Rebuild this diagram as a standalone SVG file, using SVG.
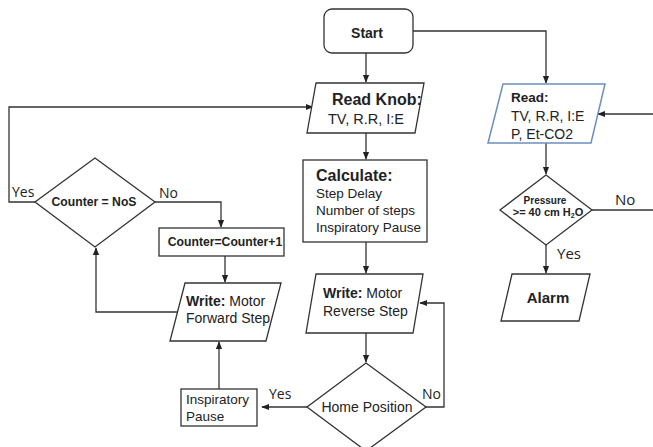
<svg xmlns="http://www.w3.org/2000/svg" width="653" height="447" viewBox="0 0 653 447">
<style>
.s{fill:#fff;stroke:#333;stroke-width:1.3}
.b{fill:#fff;stroke:#6c8ebf;stroke-width:1.5}
.t{font-family:"Liberation Sans",Arial,sans-serif;font-size:13.5px;fill:#222}
.bd{font-weight:bold}
.l{font-family:"Open Sans","Liberation Sans",sans-serif;font-size:13px;fill:#222}
.c{fill:none;stroke:#333;stroke-width:1.3}
</style>
<defs>
<marker id="a" viewBox="0 0 10 10" refX="9" refY="5" markerWidth="6" markerHeight="6" orient="auto"><path d="M0,1 L10,5 L0,9 z" fill="#222"/></marker>
</defs>
<rect width="653" height="447" fill="#fff"/>
<g id="connectors">
<path class="c" d="M366,53 V82" marker-end="url(#a)"/>
<path class="c" d="M413,31 H546 V83" marker-end="url(#a)"/>
<path class="c" d="M653,114 H598" marker-end="url(#a)"/>
<path class="c" d="M366,133 V159" marker-end="url(#a)"/>
<path class="c" d="M366,242 V273" marker-end="url(#a)"/>
<path class="c" d="M366,333 V362" marker-end="url(#a)"/>
<path class="c" d="M426,407 H444 V303 H420" marker-end="url(#a)"/>
<path class="c" d="M307,407 H262" marker-end="url(#a)"/>
<path class="c" d="M219,389 V342" marker-end="url(#a)"/>
<path class="c" d="M177,312 H96 V248" marker-end="url(#a)"/>
<path class="c" d="M35,202 H9 V107 H313" marker-end="url(#a)"/>
<path class="c" d="M155,202 H221 V227" marker-end="url(#a)"/>
<path class="c" d="M225,256 V282" marker-end="url(#a)"/>
<path class="c" d="M546,143 V174" marker-end="url(#a)"/>
<path class="c" d="M592,210 H653"/>
<path class="c" d="M546,245 V273" marker-end="url(#a)"/>
</g>
<g id="start">
<rect class="s" x="324" y="9" width="89" height="44" rx="8"/>
<text class="t bd" x="367" y="38" text-anchor="middle" style="font-size:14px">Start</text>
</g>
<g id="readknob">
<polygon class="s" points="316,83 424,83 415,133 307,133"/>
<text class="t bd" x="332" y="105" style="font-size:16px">Read Knob:</text>
<text class="t" x="328" y="124" style="font-size:14.5px">TV, R.R, I:E</text>
</g>
<g id="read">
<polygon class="b" points="503,84 605,84 591,143 488,143"/>
<text class="t bd" x="511" y="102">Read:</text>
<text class="t" x="511" y="121" style="font-size:14px">TV, R.R, I:E</text>
<text class="t" x="511" y="139" style="font-size:14px">P, Et-CO2</text>
</g>
<g id="calculate">
<rect class="s" x="303" y="160" width="124" height="82"/>
<text class="t bd" x="316" y="181" style="font-size:16px">Calculate:</text>
<text class="t" x="316" y="198">Step Delay</text>
<text class="t" x="316" y="215">Number of steps</text>
<text class="t" x="316" y="232">Inspiratory Pause</text>
</g>
<g id="writereverse">
<polygon class="s" points="316,274 423,274 413,333 306,333"/>
<text class="t" x="323" y="298" style="font-size:14px"><tspan class="bd">Write:</tspan> Motor</text>
<text class="t" x="323" y="316" style="font-size:14px">Reverse Step</text>
</g>
<g id="home">
<polygon class="s" points="366,363 426,407 366,451 307,407"/>
<text class="t" x="367" y="412" text-anchor="middle" style="font-size:14px">Home Position</text>
<text class="l" x="422" y="399" style="font-size:14px">No</text>
<text class="l" x="269" y="399" style="font-size:14px">Yes</text>
</g>
<g id="inspause">
<rect class="s" x="181" y="389" width="76" height="37"/>
<text class="t" x="186" y="404">Inspiratory</text>
<text class="t" x="186" y="421">Pause</text>
</g>
<g id="writeforward">
<polygon class="s" points="185,283 281,283 266,341 170,341"/>
<text class="t" x="186" y="306" style="font-size:14px"><tspan class="bd">Write:</tspan> Motor</text>
<text class="t" x="186" y="323" style="font-size:14px">Forward Step</text>
</g>
<g id="counternos">
<polygon class="s" points="95,158 155,202 95,247 35,202"/>
<text class="t bd" x="94" y="206" text-anchor="middle" style="font-size:12.2px">Counter = NoS</text>
<text class="l" x="12" y="197" style="font-size:14px">Yes</text>
<text class="l" x="159" y="198" style="font-size:14px">No</text>
</g>
<g id="counterinc">
<rect class="s" x="159" y="228" width="125" height="28"/>
<text class="t bd" x="225" y="246" text-anchor="middle" style="font-size:12.2px">Counter=Counter+1</text>
</g>
<g id="pressure">
<polygon class="s" points="546,175 592,210 546,245 500,210"/>
<text class="t bd" x="545" y="204" text-anchor="middle" style="font-size:10px">Pressure</text>
<text class="t bd" x="548" y="216" text-anchor="middle" style="font-size:11px">&gt;= 40 cm H<tspan style="font-size:7px" dy="2">2</tspan><tspan dy="-2">O</tspan></text>
<text class="l" x="615" y="205" style="font-size:15px">No</text>
<text class="l" x="557" y="259" style="font-size:15px">Yes</text>
</g>
<g id="alarm">
<polygon class="s" points="512,274 590,274 579,321 501,321"/>
<text class="t bd" x="548" y="303" text-anchor="middle" style="font-size:15px">Alarm</text>
</g>
</svg>
